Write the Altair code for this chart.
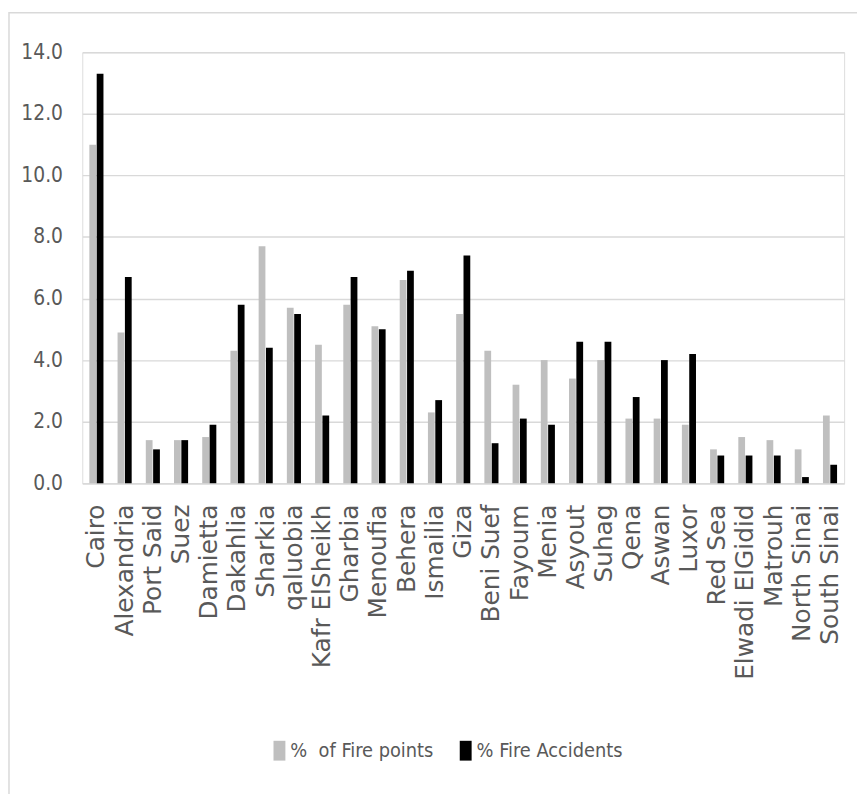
import altair as alt
import pandas as pd

governorates = ["Cairo", "Alexandria", "Port Said", "Suez", "Damietta", "Dakahlia", "Sharkia",
                "qaluobia", "Kafr ElSheikh", "Gharbia", "Menoufia", "Behera", "Ismailia", "Giza",
                "Beni Suef", "Fayoum", "Menia", "Asyout", "Suhag", "Qena", "Aswan", "Luxor",
                "Red Sea", "Elwadi ElGidid", "Matrouh", "North Sinai", "South Sinai"]
fire_points = [11.0, 4.9, 1.4, 1.4, 1.5, 4.3, 7.7, 5.7, 4.5, 5.8, 5.1, 6.6, 2.3, 5.5,
               4.3, 3.2, 4.0, 3.4, 4.0, 2.1, 2.1, 1.9, 1.1, 1.5, 1.4, 1.1, 2.2]
fire_accidents = [13.3, 6.7, 1.1, 1.4, 1.9, 5.8, 4.4, 5.5, 2.2, 6.7, 5.0, 6.9, 2.7, 7.4,
                  1.3, 2.1, 1.9, 4.6, 4.6, 2.8, 4.0, 4.2, 0.9, 0.9, 0.9, 0.2, 0.6]
series_names = ["%\u00a0 of Fire points", "% Fire Accidents"]
series_colors = ["#bfbfbf", "#000000"]
y_ticks = [0, 2, 4, 6, 8, 10, 12, 14]

rows = []
for g, a, b in zip(governorates, fire_points, fire_accidents):
    rows.append({"gov": g, "series": series_names[0], "value": a})
    rows.append({"gov": g, "series": series_names[1], "value": b})
df = pd.DataFrame(rows)

W, H = 769, 435
narrow = "Liberation Sans Narrow, DejaVu Sans Condensed, sans-serif"

bars = alt.Chart(df).mark_bar().encode(
    x=alt.X("gov:N", sort=governorates,
            scale=alt.Scale(paddingInner=0.5, paddingOuter=0.25),
            axis=alt.Axis(title=None, labelAngle=-90, labelFont="DejaVu Sans", labelFontSize=25,
                          labelColor="#595959", labelPadding=21, ticks=False, domain=True,
                          domainColor="#d9d9d9", domainWidth=1.5, grid=False, labelLimit=400)),
    xOffset=alt.XOffset("series:N", sort=series_names, scale=alt.Scale(paddingInner=0.08)),
    y=alt.Y("value:Q", scale=alt.Scale(domain=[0, 14], nice=False),
            axis=alt.Axis(title=None, values=y_ticks, format=".1f", labelFont=narrow,
                          labelFontSize=21, labelColor="#595959", labelPadding=20, ticks=False,
                          domain=False, grid=True, gridColor="#d9d9d9", gridWidth=1.5)),
    color=alt.Color("series:N", sort=series_names,
                    scale=alt.Scale(domain=series_names, range=series_colors),
                    legend=alt.Legend(title=None, orient="none", direction="horizontal",
                                      legendX=189, legendY=695,
                                      symbolType="M-0.6,-1H0.6V1H-0.6Z", symbolSize=400,
                                      symbolStrokeWidth=0, labelFont=narrow, labelFontSize=20,
                                      labelColor="#595959", labelOffset=1, columnPadding=22,
                                      labelLimit=400)),
)

border = alt.Chart(pd.DataFrame({"a": [0]})).mark_rect(
    fill=None, stroke="#d9d9d9", strokeWidth=1.5
).encode(x=alt.value(-74), x2=alt.value(1000), y=alt.value(-40), y2=alt.value(1000))

chart = alt.layer(bars, border).properties(
    width=W, height=H,
    autosize=alt.AutoSizeParams(type="none"),
    padding={"left": 75, "top": 41, "right": 13, "bottom": 310},
).configure_view(stroke=None).configure(background="white")

chart.save("out.html", embed_options={"renderer": "svg", "actions": False})
